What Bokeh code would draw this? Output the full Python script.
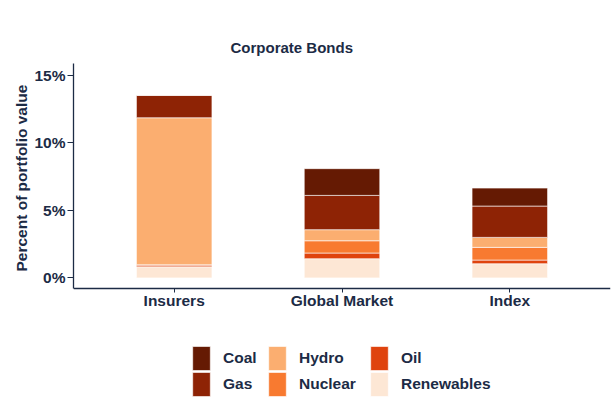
from bokeh.plotting import figure
from bokeh.models import (ColumnDataSource, Range1d, FixedTicker, PrintfTickFormatter,
                          Legend, LegendItem, Title)
from bokeh.embed import file_html
from bokeh.resources import INLINE

categories = ["Insurers", "Global Market", "Index"]
renewables = [0.82, 1.42, 1.05]
oil = [0.13, 0.42, 0.27]
nuclear = [0.02, 0.91, 0.94]
hydro = [10.89, 0.82, 0.74]
gas = [1.66, 2.54, 2.32]
coal = [0.0, 1.98, 1.33]
y_ticks = [0, 5, 10, 15]

stack_names = ["Renewables", "Oil", "Nuclear", "Hydro", "Gas", "Coal"]
colors = {"Coal": "#651a03", "Gas": "#8e2305", "Hydro": "#fbae70",
          "Nuclear": "#f87a30", "Oil": "#df430e", "Renewables": "#fde7d5"}
NAVY = "#1c2b45"
FONT = "Liberation Sans"

# axis extent of the plotted panel (percent) and the room kept below it for the legend
Y_LOW, Y_HIGH = -0.78, 15.88
PX_PER_UNIT = 13.5
W, H = 612, 408
LEFT, TOP, RIGHT, BOTTOM = 73, 63, 2, 4
frame_h = H - TOP - BOTTOM
y_start = Y_HIGH - frame_h / PX_PER_UNIT

src = ColumnDataSource(dict(
    x=list(range(1, len(categories) + 1)),
    Renewables=renewables, Oil=oil, Nuclear=nuclear,
    Hydro=hydro, Gas=gas, Coal=coal))

p = figure(width=W, height=H, output_backend="svg", toolbar_location=None,
           x_range=Range1d(0.4, 3.6), y_range=Range1d(y_start, Y_HIGH),
           min_border_left=LEFT, min_border_right=RIGHT, min_border_top=TOP,
           min_border_bottom=BOTTOM)
p.background_fill_color = "white"
p.border_fill_color = "white"
p.outline_line_color = None
p.grid.grid_line_color = None

renderers = p.vbar_stack(stack_names, x="x", width=0.45, source=src,
                         color=[colors[n] for n in stack_names],
                         line_color="white", line_width=0.6)
rmap = dict(zip(stack_names, renderers))

t = Title(text="Corporate Bonds", align="left", offset=157,
          text_font=FONT, text_font_size="15px", text_font_style="bold",
          text_color=NAVY, standoff=16)
p.add_layout(t, "above")

for ax in (p.xaxis[0], p.yaxis[0]):
    ax.axis_line_color = NAVY
    ax.axis_line_width = 1.3
    ax.major_tick_line_color = NAVY
    ax.major_tick_in = 0
    ax.minor_tick_line_color = None
    ax.major_label_text_font = FONT
    ax.major_label_text_font_size = "15.5px"
    ax.major_label_text_font_style = "bold"
    ax.major_label_text_color = NAVY

p.xaxis.fixed_location = Y_LOW
p.xaxis.ticker = FixedTicker(ticks=[1, 2, 3])
p.xaxis.major_label_overrides = {i + 1: c for i, c in enumerate(categories)}
p.xaxis.major_tick_out = 4
p.xaxis.major_label_standoff = 0

p.yaxis.bounds = (Y_LOW, Y_HIGH)
p.yaxis.ticker = FixedTicker(ticks=y_ticks)
p.yaxis.formatter = PrintfTickFormatter(format="%d%%")
p.yaxis.major_tick_out = 6
p.yaxis.major_label_standoff = 2

ytitle = Title(text="Percent of portfolio value", align="left", offset=133,
               text_font=FONT, text_font_size="15.5px", text_font_style="bold",
               text_color=NAVY, standoff=3)
p.add_layout(ytitle, "left")

legend_names = ["Coal", "Gas", "Hydro", "Nuclear", "Oil", "Renewables"]
legend_pos = [(117, 31), (117, 5), (193, 31), (193, 5), (295, 31), (295, 5)]
for n, (lx, ly) in zip(legend_names, legend_pos):
    lg = Legend(items=[LegendItem(label=n, renderers=[rmap[n]])],
                orientation="vertical", location=(lx, ly),
                glyph_width=22, glyph_height=30, label_standoff=11,
                spacing=0, padding=0, margin=0,
                border_line_color=None, background_fill_alpha=0,
                label_text_font=FONT, label_text_font_size="15.5px",
                label_text_font_style="bold", label_text_color=NAVY,
                label_height=24)
    p.add_layout(lg, "center")

open("out.html", "w").write(file_html(p, INLINE))
